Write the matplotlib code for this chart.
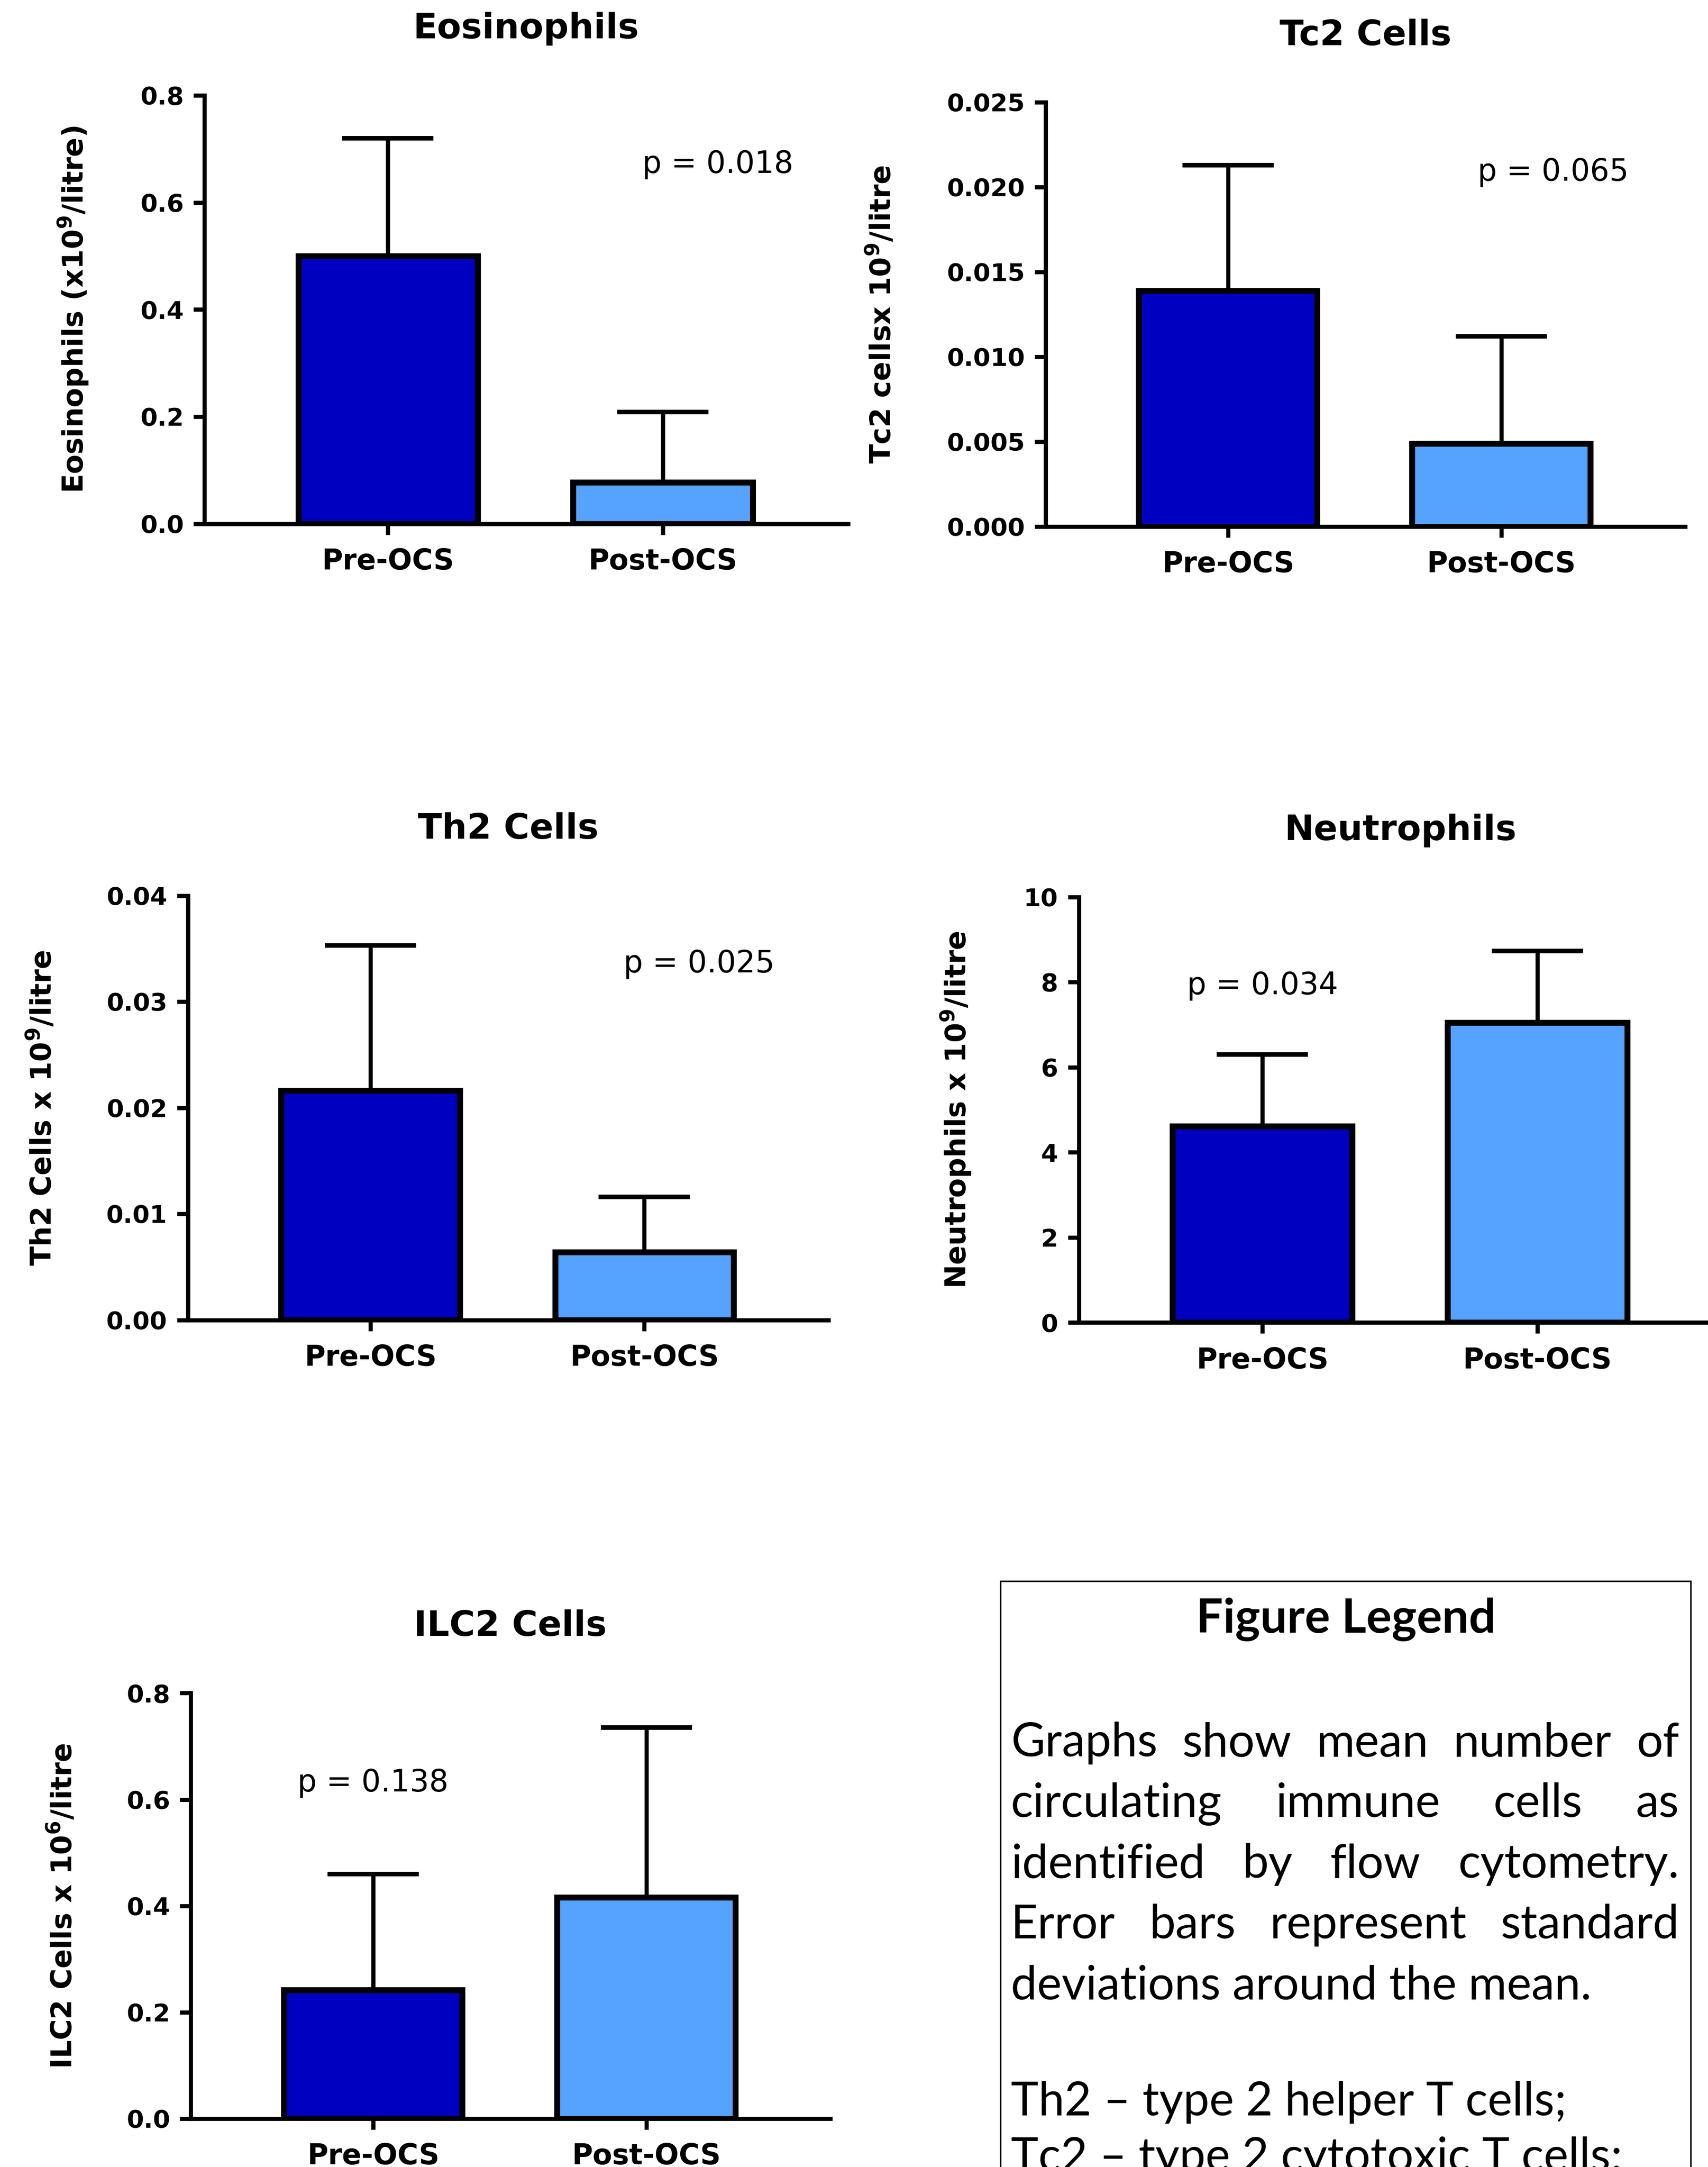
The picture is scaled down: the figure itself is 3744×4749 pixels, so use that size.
import numpy as np
import matplotlib
matplotlib.use("Agg")
import matplotlib.pyplot as plt
from matplotlib.patches import Rectangle

# ---- data (means and SDs) ----
groups = ["Pre-OCS", "Post-OCS"]

eos_mean = [0.50, 0.077]
eos_sd = [0.22, 0.132]

tc2_mean = [0.0139, 0.0049]
tc2_sd = [0.0074, 0.0063]

th2_mean = [0.0216, 0.0064]
th2_sd = [0.0137, 0.0052]

neut_mean = [4.61, 7.05]
neut_sd = [1.69, 1.68]

ilc2_mean = [0.242, 0.416]
ilc2_sd = [0.218, 0.319]

titles = ["Eosinophils", "Tc2 Cells", "Th2 Cells", "Neutrophils", "ILC2 Cells"]
ylabels = [
    r"Eosinophils (x10$^{\mathbf{9}}$/litre)",
    r"Tc2 cellsx 10$^{\mathbf{9}}$/litre",
    r"Th2 Cells x 10$^{\mathbf{9}}$/litre",
    r"Neutrophils x 10$^{\mathbf{9}}$/litre",
    r"ILC2 Cells x 10$^{\mathbf{6}}$/litre",
]
pvals = ["p = 0.018", "p = 0.065", "p = 0.025", "p = 0.034", "p = 0.138"]
yticks = [
    [0.0, 0.2, 0.4, 0.6, 0.8],
    [0.0, 0.005, 0.010, 0.015, 0.020, 0.025],
    [0.0, 0.01, 0.02, 0.03, 0.04],
    [0, 2, 4, 6, 8, 10],
    [0.0, 0.2, 0.4, 0.6, 0.8],
]
ytick_fmt = ["{:.1f}", "{:.3f}", "{:.2f}", "{:.0f}", "{:.1f}"]

legend_title = "Figure Legend"
legend_lines = [
    "Graphs show mean number of",
    "circulating immune cells as",
    "identified by flow cytometry.",
    "Error bars represent standard",
    "deviations around the mean.",
    "Th2 \u2013 type 2 helper T cells;",
    "Tc2 \u2013 type 2 cytotoxic T cells;",
]
justified = [True, True, True, True, False, False, False]

means = [eos_mean, tc2_mean, th2_mean, neut_mean, ilc2_mean]
sds = [eos_sd, tc2_sd, th2_sd, neut_sd, ilc2_sd]

# ---- layout ----
W, H = 3745, 4749
DPI = 300
fig = plt.figure(figsize=(W / DPI, H / DPI), dpi=DPI)
plt.rcParams["mathtext.default"] = "bf"

# axes boxes [left, bottom, width, height] in figure fraction
boxes = [
    [0.1196, 0.7583, 0.3767, 0.1977],
    [0.6120, 0.7570, 0.3743, 0.1958],
    [0.1099, 0.3909, 0.3751, 0.1958],
    [0.6314, 0.3897, 0.3767, 0.1964],
    [0.1116, 0.0223, 0.3743, 0.1964],
]
label_x = [-0.204, -0.257, -0.228, -0.191, -0.201]
p_pos = [(1.2, 0.671), (1.19, 0.0209), (1.2, 0.0336), (0.0, 7.92), (0.0, 0.631)]

bar_colors = ["#0000C0", "#56A2FF"]
x = np.arange(len(groups))

for i in range(5):
    ax = fig.add_axes(boxes[i])
    ax.bar(x, means[i], width=0.653, color=bar_colors, edgecolor="black",
           linewidth=3.1, zorder=3)
    ax.errorbar(x, means[i], yerr=[np.zeros(2), sds[i]], fmt="none",
                ecolor="black", elinewidth=2.2, capsize=24, capthick=2.4,
                zorder=2)
    ax.set_xlim(-0.668, 1.673)
    ax.set_ylim(0, yticks[i][-1])
    ax.set_xticks(x)
    ax.set_xticklabels(groups, fontsize=15, fontweight="bold")
    ax.set_yticks(yticks[i])
    ax.set_yticklabels([ytick_fmt[i].format(v) for v in yticks[i]],
                       fontsize=13, fontweight="bold")
    for s in ["top", "right"]:
        ax.spines[s].set_visible(False)
    for s in ["left", "bottom"]:
        ax.spines[s].set_linewidth(2.2)
    ax.tick_params(axis="both", direction="out", length=5.8, width=2.2)
    ax.tick_params(axis="y", pad=5)
    ax.tick_params(axis="x", pad=7)
    ax.set_title(titles[i], fontsize=18.5, fontweight="bold", pad=30)
    ax.set_ylabel(ylabels[i], fontsize=15, fontweight="bold")
    ax.yaxis.label.set_va("center")
    ax.yaxis.set_label_coords(label_x[i], 0.5)
    ax.text(p_pos[i][0], p_pos[i][1], pvals[i], fontsize=16,
            ha="center", va="center")

# ---- legend box ----
box_l, box_r, box_t = 2193, 3706, 3465
fig.patches.append(Rectangle((box_l / W, -0.01), (box_r - box_l) / W,
                             1 - box_t / H + 0.01, transform=fig.transFigure,
                             fill=False, edgecolor="black", linewidth=0.8))
fig.text(2950 / W, 1 - 3578 / H, legend_title, fontsize=25, fontweight="bold",
         family="Lato", ha="center", va="baseline")

renderer = fig.canvas.get_renderer()
text_l, text_r = 2216, 3681
baselines = [3849, 3982, 4115, 4248, 4381, 4636, 4758]
for line, yb, just in zip(legend_lines, baselines, justified):
    yf = 1 - yb / H
    if not just:
        fig.text(text_l / W, yf, line, fontsize=24.5, family="Lato",
                 ha="left", va="baseline")
        continue
    words = line.split()
    arts = [fig.text(0, yf, w, fontsize=24.5, family="Lato", ha="left",
                     va="baseline") for w in words]
    widths = [a.get_window_extent(renderer).width for a in arts]
    gap = (text_r - text_l - sum(widths)) / (len(words) - 1)
    xp = text_l
    for a, wd in zip(arts, widths):
        a.set_x(xp / W)
        xp += wd + gap

fig.savefig("out.png", dpi=DPI)
